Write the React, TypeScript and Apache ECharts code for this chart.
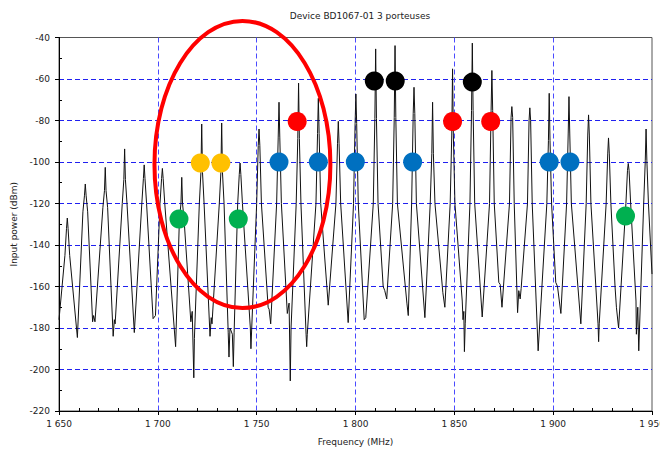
import React, { useEffect, useRef } from "react";
import * as echarts from "echarts";

const titleText = "Device BD1067-01 3 porteuses";
const xName = "Frequency (MHz)";
const yName = "Input power (dBm)";

// x/y ticks
const xMin = 1650;
const xMax = 1950;
const xStep = 50;
const yMin = -220;
const yMax = -40;
const yStep = 20;

// measured spectrum trace [frequency MHz, power dBm]
const trace: number[][] = [
  [1650, -176],
  [1653.0, -145], [1653.8, -132], [1654.2, -127], [1654.6, -132], [1655.4, -145],
  [1659.3, -184.6],
  [1662.1, -124], [1662.9, -116], [1663.3, -110.6], [1663.7, -116], [1664.5, -124],
  [1667.0, -177], [1667.5, -174], [1668.2, -177],
  [1672.2, -122], [1673.0, -113.8], [1673.4, -102.6], [1673.8, -113.8], [1674.6, -122],
  [1677.4, -184], [1678.0, -176], [1678.4, -178],
  [1682.0, -120], [1682.8, -108.5], [1683.2, -93.7], [1683.6, -108.5], [1684.4, -120],
  [1688.1, -182.2],
  [1691.9, -120], [1692.7, -108], [1693.1, -101.4], [1693.5, -108], [1694.3, -120],
  [1697.6, -175.5], [1698.8, -174],
  [1701.1, -120], [1701.9, -108], [1702.3, -103.1], [1702.7, -108], [1703.5, -120],
  [1709.0, -189],
  [1710.9, -128], [1711.7, -120], [1712.1, -107.4], [1712.5, -120], [1713.3, -128],
  [1716.7, -177], [1717.4, -172], [1718.2, -204], [1718.5, -185],
  [1721.0, -120], [1721.8, -105], [1722.2, -81.7], [1722.6, -105], [1723.4, -120],
  [1726.4, -184], [1727.0, -175], [1727.4, -178],
  [1731.1, -120], [1731.9, -105], [1732.3, -81.2], [1732.7, -105], [1733.5, -120],
  [1735.6, -182], [1736.0, -194], [1736.5, -180], [1737.7, -183], [1738.2, -198.6], [1738.6, -182],
  [1740.4, -120], [1741.2, -106], [1741.6, -100.5], [1742.0, -106], [1742.8, -120],
  [1746.8, -180], [1747.1, -190], [1747.5, -180],
  [1750.0, -120], [1750.8, -92], [1751.2, -84.1], [1751.6, -92], [1752.4, -120],
  [1755.8, -170], [1756.3, -171], [1757.1, -178],
  [1760.1, -120], [1760.9, -88], [1761.3, -71.2], [1761.7, -88], [1762.5, -120],
  [1765.5, -173], [1766.4, -168], [1767.0, -205.5], [1767.4, -180],
  [1770.0, -120], [1770.8, -88.7], [1771.2, -62], [1771.6, -88.7], [1772.4, -120],
  [1775.0, -183], [1775.3, -189], [1775.6, -183],
  [1780.0, -120], [1780.8, -86.3], [1781.2, -69.3], [1781.6, -86.3], [1782.4, -120],
  [1786.2, -169],
  [1790.1, -120], [1790.9, -91.2], [1791.3, -80.4], [1791.7, -91.2], [1792.5, -120],
  [1796.3, -177.4],
  [1799.0, -120], [1799.8, -81.5], [1800.2, -67.2], [1800.6, -81.5], [1801.4, -120],
  [1804.4, -176], [1805.2, -175],
  [1809.0, -120], [1809.8, -79], [1810.2, -45.5], [1810.6, -79], [1811.4, -120],
  [1814.0, -160], [1814.8, -162], [1815.8, -166],
  [1818.8, -120], [1819.6, -78.5], [1820.0, -43.9], [1820.4, -78.5], [1821.2, -120],
  [1826.0, -168], [1826.7, -174],
  [1828.4, -120], [1829.2, -76.7], [1829.6, -64], [1830.0, -76.7], [1830.8, -120],
  [1835.1, -175],
  [1837.8, -120], [1838.6, -96], [1839.0, -71.2], [1839.4, -96], [1840.2, -120],
  [1844.2, -163], [1845.2, -170],
  [1847.9, -120], [1848.7, -87], [1849.1, -55.1], [1849.5, -87], [1850.3, -120],
  [1854.0, -167], [1854.4, -176], [1854.8, -172], [1855.1, -191.4], [1855.5, -178],
  [1857.9, -120], [1858.7, -75.2], [1859.1, -42.7], [1859.5, -75.2], [1860.3, -120],
  [1864.1, -174.7],
  [1867.8, -120], [1868.6, -75.2], [1869.0, -55.9], [1869.4, -75.2], [1870.2, -120],
  [1872.5, -158], [1873.2, -159], [1874.1, -170],
  [1877.9, -120], [1878.7, -78.5], [1879.1, -73.3], [1879.5, -78.5], [1880.3, -120],
  [1882.0, -172.6], [1882.6, -162], [1883.3, -166], [1883.8, -161],
  [1887.0, -120], [1887.8, -80], [1888.2, -73.9], [1888.6, -80], [1889.4, -120],
  [1892.4, -191],
  [1896.8, -120], [1897.6, -89.7], [1898.0, -66.9], [1898.4, -89.7], [1899.2, -120],
  [1901.3, -158], [1902.2, -160], [1903.9, -173],
  [1906.8, -120], [1907.6, -86.5], [1908.0, -68.5], [1908.4, -86.5], [1909.2, -120],
  [1914.0, -178],
  [1916.7, -120], [1917.5, -87], [1917.9, -77.3], [1918.3, -87], [1919.1, -120],
  [1922.7, -178], [1923.0, -186.6], [1923.3, -178],
  [1926.8, -120], [1927.6, -96.1], [1928.0, -88.4], [1928.4, -96.1], [1929.2, -120],
  [1931.3, -160], [1932.0, -170], [1933.1, -180],
  [1936.8, -120], [1937.6, -104], [1938.0, -100.7], [1938.4, -104], [1939.2, -120],
  [1941.9, -167], [1942.1, -183], [1942.8, -170], [1943.3, -191],
  [1945.8, -120], [1946.6, -99.4], [1947.0, -84.1], [1947.4, -99.4], [1948.2, -120],
  [1950, -154],
];

// coloured carrier markers
const greenMarks: number[][] = [[1710.7, -127.5], [1740.7, -127.5], [1936.6, -126]];
const yellowMarks: number[][] = [[1721.5, -100.5], [1731.9, -100.5]];
const blueMarks: number[][] = [
  [1761.3, -100], [1781.2, -100], [1799.9, -100], [1828.9, -100], [1898.0, -100], [1908.5, -100],
];
const redMarks: number[][] = [[1770.5, -80.5], [1849.1, -80.5], [1868.4, -80.5]];
const blackMarks: number[][] = [[1809.5, -61], [1820.1, -61], [1859.1, -61.5]];

// highlight ellipse (data coordinates: centre, half-width MHz, half-height dB)
const ellipseCenter = [1742.8, -101.2];
const ellipseHalf = [44.5, 69.2];

const FONT = "DejaVu Sans";

function fmtFreq(v: number): string {
  const th = Math.floor(v / 1000);
  const rest = String(Math.round(v % 1000)).padStart(3, "0");
  return `${th} ${rest}`;
}

function markSeries(name: string, data: number[][], color: string) {
  return {
    name,
    type: "scatter",
    data,
    symbol: "circle",
    symbolSize: 19,
    itemStyle: { color, opacity: 1 },
    z: 5,
  };
}

export default function App() {
  const ref = useRef<HTMLDivElement>(null);
  useEffect(() => {
    if (!ref.current) return;
    const chart = echarts.init(ref.current, undefined, { renderer: "svg" });
    const option: any = {
      animation: false,
      backgroundColor: "#ffffff",
      title: {
        text: titleText,
        left: 355,
        top: 6,
        textAlign: "center",
        textStyle: { fontFamily: FONT, fontSize: 9, fontWeight: "normal", color: "#222" },
      },
      grid: {
        left: 59,
        top: 37.5,
        right: 8,
        bottom: 39,
        show: true,
        borderColor: "#555",
        borderWidth: 1,
        containLabel: false,
        outerBoundsMode: "none",
      },
      xAxis: {
        type: "value",
        min: xMin,
        max: xMax,
        interval: xStep,
        name: xName,
        nameLocation: "middle",
        nameGap: 26,
        nameTextStyle: { fontFamily: FONT, fontSize: 9, color: "#222" },
        axisLine: { show: true, onZero: false, lineStyle: { color: "#000", width: 1 } },
        axisTick: { show: true, inside: false, length: 4, lineStyle: { color: "#000" } },
        minorTick: { show: true, splitNumber: 5, length: -3, lineStyle: { color: "#000" } },
        axisLabel: {
          fontFamily: FONT,
          fontSize: 9,
          color: "#222",
          margin: 8,
          hideOverlap: false,
          formatter: (v: number) => fmtFreq(v),
        },
        splitLine: {
          show: true,
          showMinLine: false,
          showMaxLine: false,
          lineStyle: { color: "#4a4aff", type: [5, 3], width: 1 },
        },
      },
      yAxis: {
        type: "value",
        min: yMin,
        max: yMax,
        interval: yStep,
        name: yName,
        nameLocation: "middle",
        nameGap: 39,
        nameTextStyle: { fontFamily: FONT, fontSize: 9, color: "#222" },
        axisLine: { show: true, onZero: false, lineStyle: { color: "#000", width: 1 } },
        axisTick: { show: true, inside: false, length: 4, lineStyle: { color: "#000" } },
        minorTick: { show: true, splitNumber: 2, length: -3, lineStyle: { color: "#000" } },
        axisLabel: { fontFamily: FONT, fontSize: 9, color: "#222", margin: 9 },
        splitLine: {
          show: true,
          showMinLine: false,
          showMaxLine: false,
          lineStyle: { color: "#2020f0", type: [5, 3], width: 1 },
        },
      },
      series: [
        {
          name: "trace",
          type: "line",
          data: trace,
          showSymbol: false,
          symbol: "none",
          lineStyle: { color: "#111", width: 1 },
          z: 3,
        },
        markSeries("green", greenMarks, "#00b050"),
        markSeries("yellow", yellowMarks, "#ffc000"),
        markSeries("blue", blueMarks, "#0070c0"),
        markSeries("red", redMarks, "#ff0000"),
        markSeries("black", blackMarks, "#000000"),
      ],
    };
    chart.setOption(option);
    const c = chart.convertToPixel({ gridIndex: 0 }, ellipseCenter) as number[];
    const e = chart.convertToPixel({ gridIndex: 0 }, [
      ellipseCenter[0] + ellipseHalf[0],
      ellipseCenter[1] + ellipseHalf[1],
    ]) as number[];
    chart.setOption({
      graphic: [
        {
          type: "ellipse",
          z: 100,
          shape: { cx: c[0], cy: c[1], rx: Math.abs(e[0] - c[0]), ry: Math.abs(e[1] - c[1]) },
          style: { fill: "none", stroke: "#ff0000", lineWidth: 4 },
          silent: true,
        },
      ],
    });
    return () => chart.dispose();
  }, []);
  return (
    <div
      ref={ref}
      style={{ position: "fixed", left: 0, top: 0, width: 660, height: 450, background: "#fff" }}
    />
  );
}
